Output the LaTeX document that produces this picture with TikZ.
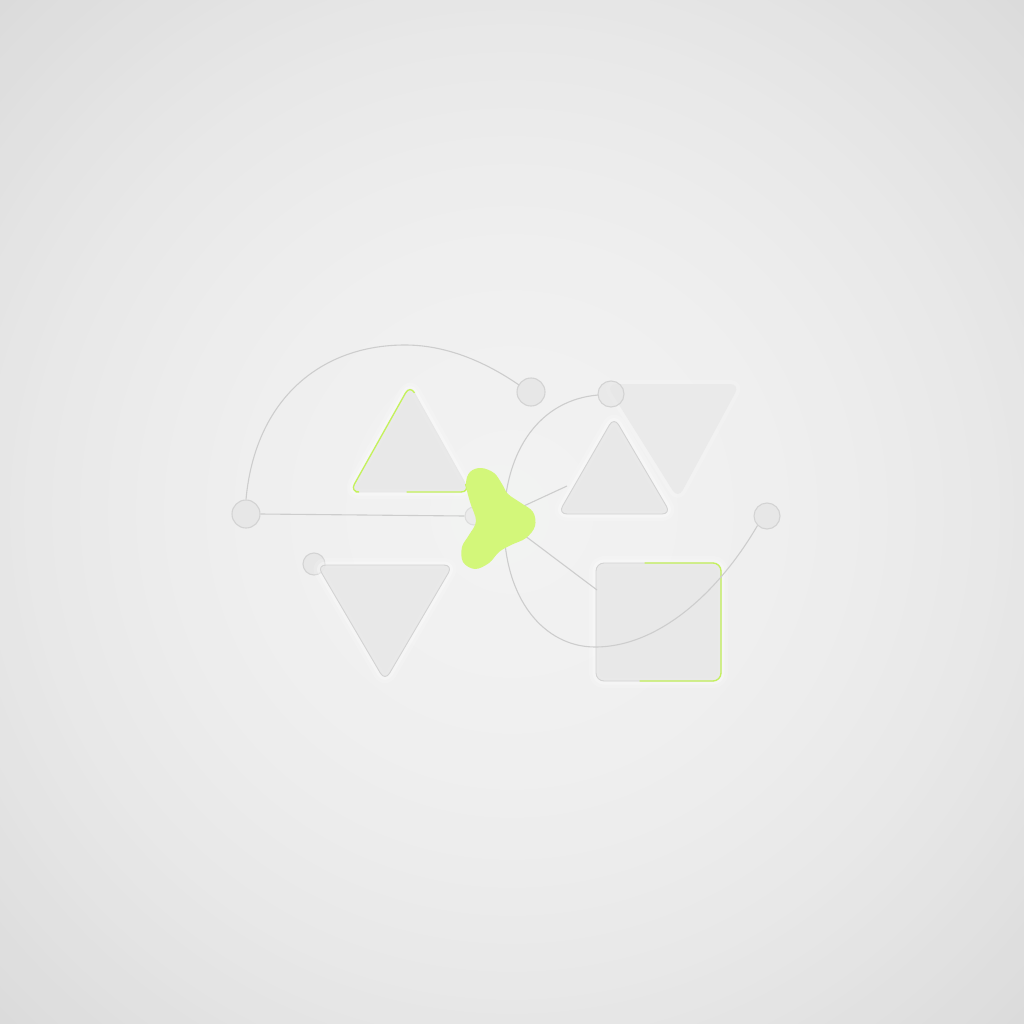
\documentclass[tikz,border=0pt]{standalone}
\usetikzlibrary{calc}
\definecolor{bgc}{HTML}{F2F2F2}
\definecolor{bge}{HTML}{DADADA}
\definecolor{linec}{HTML}{CDCDCD}
\definecolor{shapef}{HTML}{E7E7E7}
\definecolor{shapes}{HTML}{D3D3D3}
\definecolor{lime}{HTML}{D3F77A}
\definecolor{limes}{HTML}{C4F25A}
\tikzset{
  conn/.style={draw=linec, line width=1.1pt},
  dotc/.style={draw=shapes, fill=shapef, line width=1.1pt},
  halo/.style={preaction={draw=white, line width=14pt, opacity=0.15, line join=round},
               preaction={draw=white, line width=7pt, opacity=0.3, line join=round}},
  tri/.style={fill=shapef, fill opacity=0.85, draw=shapes, line width=0.9pt, rounded corners=9pt, halo},
  greenedge/.style={draw=limes, line width=1.3pt, line cap=round},
}
\begin{document}
\begin{tikzpicture}[x=1pt,y=-1pt]
\useasboundingbox (0,0) rectangle (1024,1024);
\begin{scope}
\clip (0,0) rectangle (1024,1024);
\fill[bge] (0,0) rectangle (1024,1024);
\foreach \i in {0,...,50}{
  \pgfmathsetmacro{\rr}{740-\i*14}
  \pgfmathsetmacro{\pp}{100*(1-(\rr/740)^2)}
  \fill[bgc!\pp!bge] (512,512) circle (\rr);
}
\end{scope}
% glow around blob
\foreach \r/\o in {130/0.05,105/0.06,85/0.07,66/0.08,50/0.09}{
  \fill[lime!10!white, opacity=\o] (500,515) circle (\r);
}
% connectors
\node[dotc, circle, minimum size=28pt, inner sep=0pt] (lc) at (246,514) {};
\node[dotc, circle, minimum size=28pt, inner sep=0pt] (uc) at (531,392) {};
\node[dotc, circle, minimum size=18pt, inner sep=0pt, draw opacity=0.6, fill opacity=0.6] (hc) at (474,516) {};
\draw[conn] (lc.east) -- (hc.west);
\coordinate (arcend) at (519,385);
\draw[conn] (lc.north) .. controls (255,400) and (320,345) .. (405,345) .. controls (450,345) and (490,365) .. (arcend);
% upper right big triangle (no stroke)
\fill[shapef!88!white, rounded corners=10pt,
  preaction={draw=white, line width=8pt, opacity=0.15, line join=round}] (606,384) -- (740,384) -- (678,499) -- cycle;
\node[dotc, circle, minimum size=26pt, inner sep=0pt, fill opacity=0.7] (rc) at (611,394) {};
% lower-left circle and triangle
\node[dotc, circle, minimum size=22pt, inner sep=0pt] (llc) at (314,564) {};
\draw[tri] (317,565) -- (453,565) -- (385,681) -- cycle;
% upper-left triangle
\draw[tri, draw=shapef] (410,385) -- (470,492) -- (350,492) -- cycle;
\draw[greenedge, rounded corners=9pt] (414,392) -- (410,385) -- (350,492) -- (356,492);
\draw[greenedge, rounded corners=9pt] (407,492) -- (470,492) -- (466,485);
% small upper right triangle
\draw[tri] (614,417) -- (671,514) -- (558,514) -- cycle;
% square
\draw[fill=shapef, fill opacity=0.85, draw=shapes, line width=0.9pt, rounded corners=8pt, halo] (596,563) rectangle (721,681);
\draw[greenedge, rounded corners=8pt] (645,563) -- (721,563) -- (721,681) -- (640,681);
% curve from rc down and to right circle
\node[dotc, circle, minimum size=26pt, inner sep=0pt] (rrc) at (767,516) {};
\coordinate (c2a) at (598,395);
\draw[conn] (c2a) .. controls (540,400) and (505,450) .. (504,520) .. controls (503,600) and (545,647) .. (595,647) .. controls (660,647) and (720,590) .. (rrc.south west);
% spokes from blob
\coordinate (bc) at (500,517);
\coordinate (t2) at (567,486);
\coordinate (sq) at (597,590);
\draw[conn] (bc) -- (t2);
\draw[conn] (bc) -- (sq);
% blob
\node[inner sep=0pt] (blob) at (497,517) {};
\fill[lime] plot[smooth cycle, tension=0.6] coordinates {
 (481,468) (494,473) (502,484) (508,494) (521,503) (533,512) (535,526) (526,538)
 (511,545) (499,552) (489,563) (475,569) (463,562) (462,547) (469,535) (476,521)
 (470,502) (466,484) (470,472)};
\end{tikzpicture}
\end{document}
